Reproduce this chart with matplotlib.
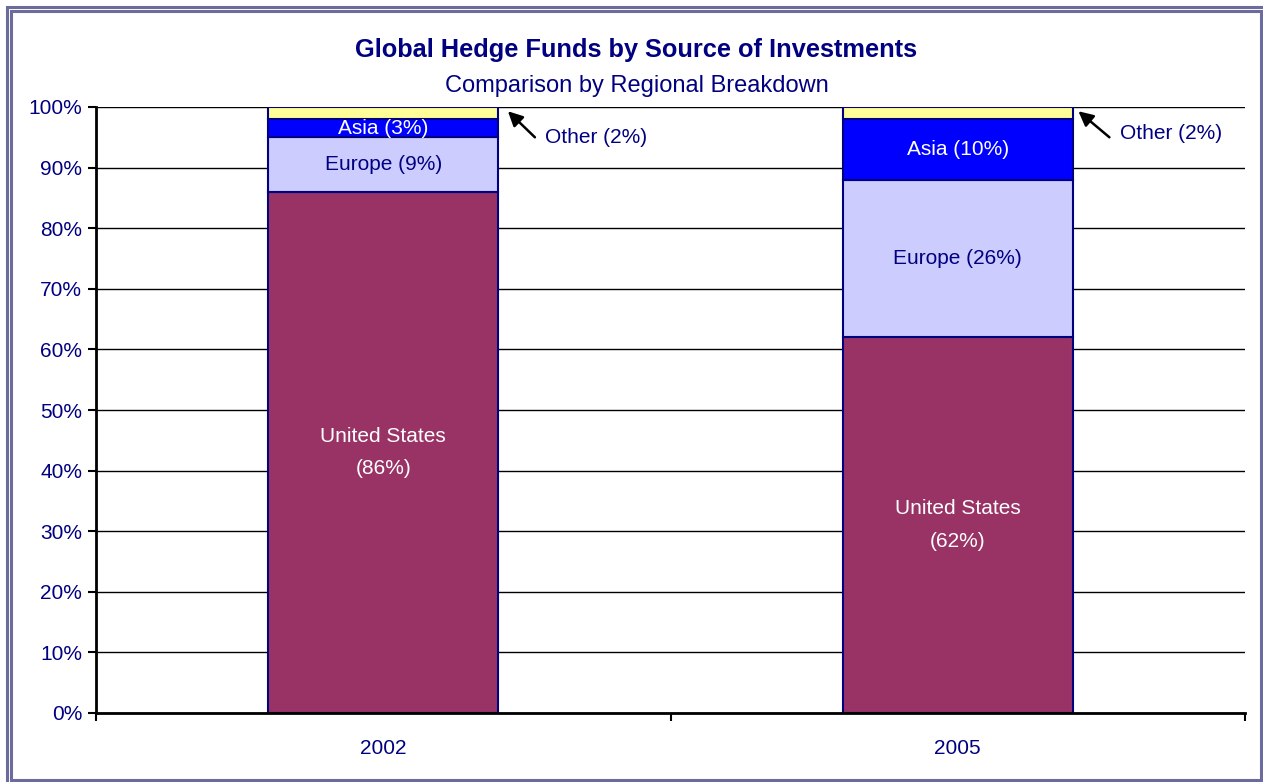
"""Stacked bar chart: global hedge funds by source of investments."""

import matplotlib

matplotlib.use("Agg")
import matplotlib.pyplot as plt
from matplotlib.patches import Rectangle
from matplotlib.ticker import FixedLocator, PercentFormatter

years = ["2002", "2005"]
regions = ["United States", "Europe", "Asia", "Other"]
shares = {
    "United States": [86, 62],
    "Europe": [9, 26],
    "Asia": [3, 10],
    "Other": [2, 2],
}
colors = {
    "United States": "#993366",
    "Europe": "#CCCCFF",
    "Asia": "#0000FF",
    "Other": "#FFFF99",
}
label_colors = {"United States": "white", "Europe": "#000080", "Asia": "white"}

NAVY = "#000080"
FRAME = "#6B6B9E"
W, H = 1263, 782
plt.rcParams["font.family"] = ["Liberation Sans", "DejaVu Sans"]

fig = plt.figure(figsize=(W / 100, H / 100), dpi=100)
ax = fig.add_axes([96 / W, 1 - 713 / H, (1245 - 96) / W, (713 - 107) / H])

positions = list(range(len(years)))
width = 0.4
bottoms = [0.0] * len(years)
for region in regions:
    values = shares[region]
    ax.bar(positions, values, width=width, bottom=bottoms, color=colors[region],
           edgecolor=NAVY, linewidth=1.5, zorder=3)
    if region in label_colors:
        for x, base, value in zip(positions, bottoms, values):
            text = f"{region} ({value}%)"
            if region == "United States":
                text = f"{region}\n({value}%)"
            ax.text(x, base + value / 2, text, ha="center", va="center",
                    color=label_colors[region], fontsize=15, zorder=4,
                    linespacing=1.9)
    bottoms = [b + v for b, v in zip(bottoms, values)]

# "Other" call-outs with arrows to the top-right corner of each bar
tip_offsets = [0.017, 0.010]
text_heights = [95.0, 95.7]
for x, value, tip, ty in zip(positions, shares["Other"], tip_offsets, text_heights):
    right = x + width / 2
    ax.annotate("", xy=(right + tip, 99.3), xytext=(right + 0.064, 95.0),
                arrowprops=dict(arrowstyle="-|>", color="black", lw=1.8,
                                mutation_scale=22, shrinkA=0, shrinkB=0),
                zorder=5)
    ax.text(right + 0.082, ty, f"Other ({value}%)", ha="left", va="center",
            color=NAVY, fontsize=15)

ax.set_xlim(-0.5, len(years) - 0.5)
ax.set_ylim(0, 100)
ax.yaxis.set_major_locator(FixedLocator(range(0, 101, 10)))
ax.yaxis.set_major_formatter(PercentFormatter(decimals=0))
ax.set_xticks(positions, years)
ax.xaxis.set_minor_locator(FixedLocator([-0.5, 0.5, 1.5]))
ax.tick_params(axis="x", which="major", length=0, pad=19, labelsize=15,
               labelcolor=NAVY)
ax.tick_params(axis="x", which="minor", length=6, width=1.5, direction="out")
ax.tick_params(axis="y", length=6, width=1.5, direction="out", labelsize=15,
               labelcolor=NAVY, pad=4)
ax.grid(axis="y", color="black", linewidth=1, zorder=0)
ax.set_axisbelow(True)
for side in ("top", "right"):
    ax.spines[side].set_visible(False)
for side in ("left", "bottom"):
    ax.spines[side].set_linewidth(2)
    ax.spines[side].set_zorder(6)

fig.text(0.504, 0.936, "Global Hedge Funds by Source of Investments",
         ha="center", va="center", fontsize=18.3, fontweight="bold", color=NAVY)
fig.text(0.504, 0.8905, "Comparison by Regional Breakdown", ha="center",
         va="center", fontsize=17, color=NAVY)

# double frame around the figure (outer one runs off the right/bottom edge)
fig.patches.append(Rectangle((6.5 / W, 1 - 790 / H), 1270 / W, 783.5 / H,
                             transform=fig.transFigure, fill=False,
                             edgecolor=FRAME, linewidth=2.2))
fig.patches.append(Rectangle((10.5 / W, 1 - 780 / H), 1250.5 / W, 769.5 / H,
                             transform=fig.transFigure, fill=False,
                             edgecolor=FRAME, linewidth=2.2))

fig.savefig("out.png", dpi=100)
